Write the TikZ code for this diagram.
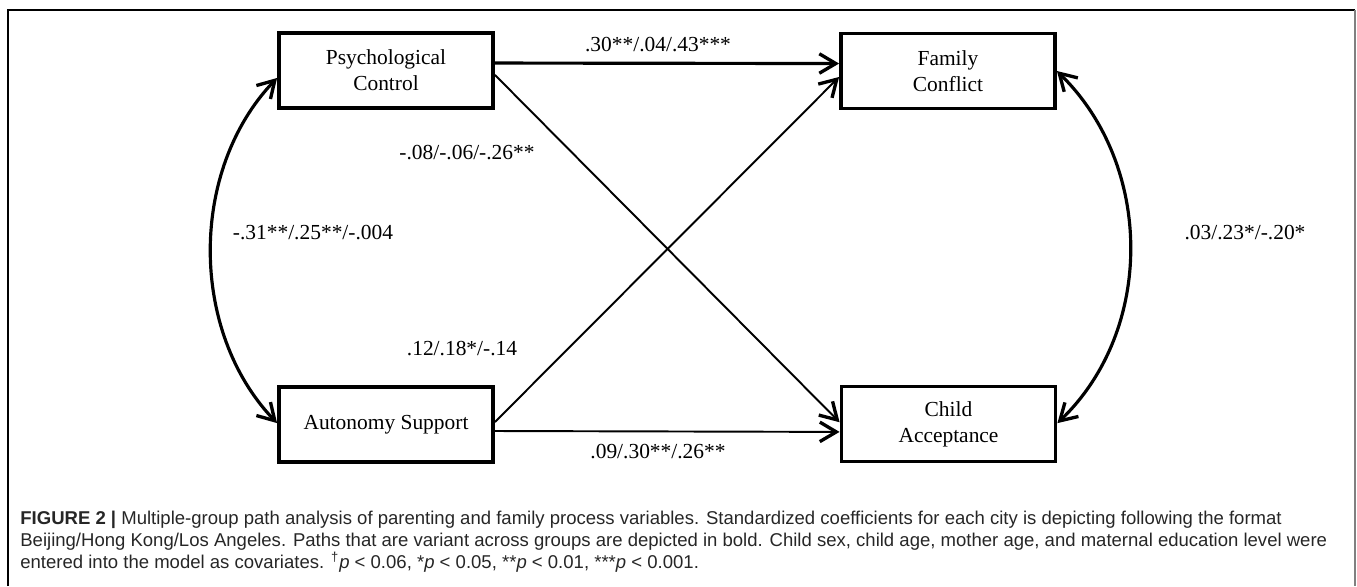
\documentclass[tikz,border=0pt]{standalone}
\usepackage{fontspec}
\setmainfont{Liberation Serif}
\newfontfamily\capfont{Liberation Sans}
\usetikzlibrary{arrows.meta}
\tikzset{
  varbox/.style={draw, line width=2.2pt, minimum width=4.28cm, minimum height=1.50cm,
    align=center, inner sep=0pt, font=\fontsize{12.2}{14.7}\selectfont},
  coef/.style={font=\fontsize{12.2}{14.7}\selectfont, inner sep=0pt},
  tip/.style={-{Straight Barb[length=3.3mm,width=3.9mm,line width=1.9pt]}},
  dtip/.style={{Straight Barb[length=3.3mm,width=3.9mm,line width=1.9pt]}-{Straight Barb[length=3.3mm,width=3.9mm,line width=1.9pt]}},
  thickpath/.style={line width=1.8pt},
  thinpath/.style={line width=1.1pt},
  capline/.style={anchor=base west, inner sep=0pt, text=black!85, font=\capfont\fontsize{10.55}{13}\selectfont}
}
\begin{document}
\begin{tikzpicture}[x=0.02cm,y=-0.02cm]
\useasboundingbox (0,0) rectangle (1357,586);
% frame
\draw[line width=0.6pt] (8,586) -- (8,10) -- (1355,10);
\draw[black!50, line width=1pt] (1355,10) -- (1355,586);

% variables
\node[varbox] (PC) at (386,70.5) {Psychological\\Control};
\node[varbox] (FC) at (948,71) {Family\\Conflict};
\node[varbox] (AS) at (386,424.5) {Autonomy Support};
\node[varbox] (CA) at (948.5,424) {Child\\Acceptance};

% paths
\draw[thickpath, tip] ([yshift=4.25pt]PC.east) -- ([yshift=4.25pt]FC.west);
\draw[thinpath, tip] ([yshift=-2.5pt]PC.east) -- ([yshift=1pt]CA.west);
\draw[thinpath, tip] ([yshift=1.4pt]AS.east) -- ([yshift=-3.4pt]FC.west);
\draw[thinpath, tip] ([yshift=-3.7pt]AS.east) -- ([yshift=-4.5pt]CA.west);

% covariances
\draw[thickpath, dtip] ([yshift=-4.25pt]PC.west) .. controls +(-88,92) and +(-88,-92) .. ([yshift=0.8pt]AS.west);
\draw[thickpath, dtip] (FC.east) .. controls +(97,95) and +(97,-93) .. ([yshift=0.5pt]CA.east);

% coefficients
\node[coef] (l1) at (658,45) {.30**/.04/.43***};
\node[coef] (l2) at (467,153) {-.08/-.06/-.26**};
\node[coef] (l3) at (313,233) {-.31**/.25**/-.004};
\node[coef] (l4) at (1245,233) {.03/.23*/-.20*};
\node[coef] (l5) at (462,349) {.12/.18*/-.14};
\node[coef] (l6) at (658,452) {.09/.30**/.26**};

% caption
\node[capline] (c1) at (20,524) {\textbf{FIGURE 2 |} Multiple-group path analysis of parenting and family process variables. Standardized coefficients for each city is depicting following the format};
\node[capline] (c2) at (20,546) {Beijing/Hong Kong/Los Angeles. Paths that are variant across groups are depicted in bold. Child sex, child age, mother age, and maternal education level were};
\node[capline] (c3) at (20,568) {entered into the model as covariates. \textsuperscript{†}\textit{p} {\textless} 0.06, *\textit{p} {\textless} 0.05, **\textit{p} {\textless} 0.01, ***\textit{p} {\textless} 0.001.};
\end{tikzpicture}
\end{document}
